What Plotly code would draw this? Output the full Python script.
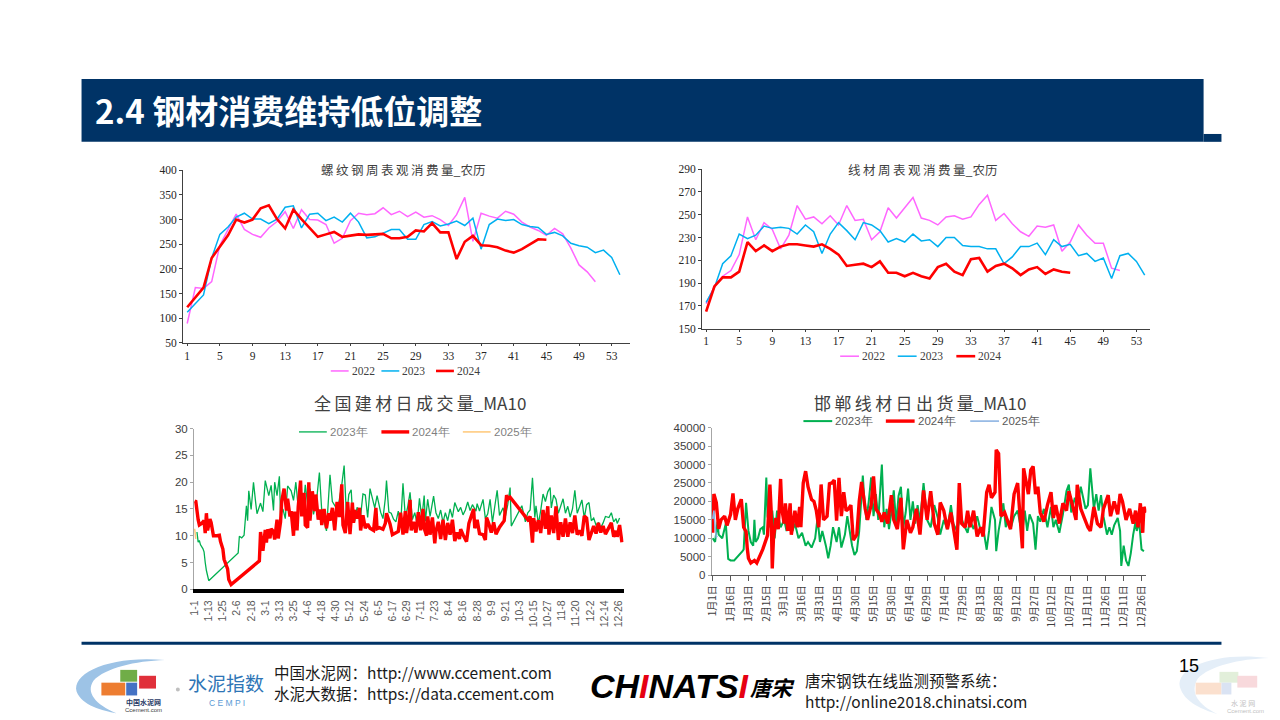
import re
import pandas as pd
import plotly.graph_objects as go

W, H = 1280, 720

# ---------------- top left: 螺纹钢周表观消费量_农历 (lunar week) ----------------
rebar_2022 = [89, 162, 160, 174, 248, 278, 311, 280, 270, 264, 283, 296, 316, 282, 320, 300, 299,
              290, 252, 262, 298, 313, 310, 312, 324, 310, 317, 306, 315, 305, 308, 300, 288, 310,
              345, 256, 313, 307, 303, 317, 311, 295, 285, 278, 268, 282, 271, 242, 208, 194, 174]
rebar_2023 = [112, 129, 147, 222, 270, 285, 305, 313, 301, 301, 292, 301, 325, 328, 283, 311, 313,
              298, 305, 295, 313, 295, 263, 265, 272, 280, 280, 260, 260, 290, 296, 287, 291, 297,
              288, 303, 240, 290, 301, 298, 300, 290, 286, 284, 270, 274, 267, 252, 247, 244, 233,
              238, 223, 188]
rebar_2024 = [122, 141, 162, 222, 245, 268, 300, 294, 300, 323, 329, 301, 282, 320, 301, 283, 265,
              270, 275, 265, 268, 270, 269, 270, 271, 262, 262, 265, 278, 276, 293, 274, 274, 220,
              255, 267, 248, 247, 244, 237, 233, 240, 250, 260, 259]

# ---------------- top right: 线材周表观消费量_农历 ----------------
wire_2022 = [172, 187, 196, 201, 215, 248, 228, 243, 237, 220, 232, 258, 246, 248, 242, 249, 241,
             258, 245, 246, 228, 235, 256, 247, 256, 265, 247, 245, 241, 248, 249, 246, 248, 259,
             267, 245, 251, 242, 235, 231, 240, 239, 241, 218, 226, 241, 232, 225, 225, 203, 201]
wire_2023 = [173, 186, 207, 214, 233, 229, 232, 240, 238, 239, 238, 233, 241, 235, 216, 233, 243,
             236, 228, 243, 241, 236, 226, 229, 226, 233, 227, 228, 222, 230, 230, 223, 222, 222,
             220, 220, 207, 213, 222, 222, 225, 215, 228, 222, 224, 214, 216, 209, 212, 194, 214,
             216, 209, 197]
wire_2024 = [165, 187, 195, 195, 200, 226, 218, 223, 218, 222, 224, 224, 223, 222, 224, 220, 215,
             205, 206, 207, 204, 209, 199, 199, 196, 199, 196, 194, 204, 207, 200, 197, 211, 212,
             200, 205, 207, 203, 197, 202, 204, 198, 202, 200, 199]

week_ticks = [1, 5, 9, 13, 17, 21, 25, 29, 33, 37, 41, 45, 49, 53]

# ---------------- bottom left: 全国建材日成交量_MA10 (day of year) ----------------
bl_day_2023 = [2, 3, 4, 5, 7, 8, 9, 10, 12, 37, 38, 40, 42, 44, 45, 46, 48, 50, 52, 53, 56, 58, 60,
               61, 63, 65, 67, 68, 70, 72, 73, 75, 77, 79, 82, 84, 86, 88, 90, 92, 94, 96, 98, 101,
               104, 106, 108, 110, 112, 115, 117, 120, 122, 125, 127, 129, 131, 133, 134, 136, 138,
               141, 143, 145, 147, 149, 151, 153, 155, 158, 160, 162, 163, 165, 167, 169, 171, 173,
               175, 177, 179, 181, 183, 185, 187, 189, 191, 193, 195, 196, 198, 200, 203, 205, 207,
               209, 211, 213, 215, 217, 219, 221, 224, 226, 228, 230, 232, 234, 236, 239, 240, 242,
               245, 247, 249, 251, 253, 255, 257, 259, 262, 264, 266, 268, 269, 278, 281, 283, 285,
               287, 289, 290, 292, 294, 296, 298, 300, 302, 303, 305, 307, 309, 311, 313, 315, 317,
               319, 321, 323, 325, 327, 329, 331, 333, 335, 337, 339, 341, 343, 345, 347, 349, 352,
               354, 356, 358, 359, 361]
bl_val_2023 = [10.7, 8.8, 9.1, 8.3, 7.6, 7.0, 5.0, 3.5, 1.6, 6.8, 9.9, 9.6, 10.1, 15.6, 12.8, 18.4,
               14.9, 20.0, 15.9, 14.1, 16.1, 14.5, 20.3, 19.3, 17.5, 19.4, 14.7, 20.0, 17.5, 21.1,
               13.8, 15.0, 13.2, 19.3, 18.4, 16.6, 20.0, 15.2, 18.6, 14.2, 19.5, 16.0, 18.8, 14.0,
               17.5, 21.8, 14.6, 12.6, 10.9, 21.4, 16.4, 15.3, 15.5, 19.5, 23.1, 13.5, 17.7, 18.6,
               14.6, 12.7, 15.3, 13.7, 17.8, 17.6, 13.4, 18.8, 17.2, 15.2, 17.5, 14.4, 13.2, 17.0,
               20.3, 14.4, 14.2, 13.1, 12.6, 14.6, 12.0, 19.8, 13.4, 15.4, 18.1, 13.0, 14.3, 12.2,
               17.0, 13.2, 17.5, 12.7, 16.8, 13.6, 17.4, 14.3, 13.2, 14.8, 12.5, 14.3, 12.8, 15.0,
               13.4, 16.2, 14.5, 15.3, 13.9, 14.8, 16.3, 14.7, 15.8, 14.6, 16.0, 14.6, 16.8, 13.2,
               14.1, 16.8, 12.5, 15.5, 18.5, 13.8, 15.2, 13.6, 15.8, 19.0, 11.8, 15.6, 12.6, 14.3,
               14.8, 20.8, 13.4, 15.6, 12.2, 14.7, 17.8, 16.4, 18.2, 19.0, 15.2, 17.6, 16.8, 14.2,
               15.7, 16.9, 14.2, 15.5, 13.5, 15.0, 18.5, 14.2, 15.4, 16.7, 13.3, 15.8, 16.2, 12.8,
               13.3, 12.0, 12.4, 11.5, 12.4, 13.6, 13.4, 14.3, 12.6, 13.2, 12.3, 13.3]

bl_day_2024 = [0, 1, 3, 4, 6, 8, 9, 10, 11, 13, 14, 16, 19, 21, 22, 24, 25, 28, 29, 31, 55, 56, 58,
               59, 60, 61, 62, 64, 65, 67, 68, 70, 71, 73, 74, 76, 78, 79, 81, 82, 84, 85, 87, 88,
               90, 91, 93, 94, 96, 97, 98, 100, 102, 103, 105, 107, 108, 110, 112, 114, 115, 117,
               119, 121, 123, 125, 126, 128, 130, 132, 134, 135, 136, 138, 140, 141, 143, 145, 147,
               149, 152, 154, 155, 157, 160, 162, 163, 164, 166, 168, 170, 173, 175, 177, 179, 180,
               182, 183, 184, 186, 188, 190, 192, 194, 195, 197, 198, 200, 202, 204, 205, 207, 209,
               211, 213, 215, 217, 219, 221, 223, 225, 226, 228, 231, 233, 235, 237, 238, 240, 242,
               245, 247, 248, 250, 252, 254, 256, 259, 261, 263, 265, 266, 268, 283, 285, 287, 288,
               290, 292, 294, 296, 298, 300, 301, 303, 305, 307, 309, 311, 313, 315, 317, 319, 321,
               323, 325, 327, 329, 331, 333, 335, 337, 339, 341, 343, 345, 347, 349, 352, 354, 356,
               358, 359, 361, 363]
bl_val_2024 = [16.5, 16.4, 13.0, 12.0, 12.3, 12.8, 10.5, 14.2, 11.0, 13.1, 12.5, 10.0, 10.0, 10.1,
               8.9, 7.5, 5.6, 3.8, 1.8, 0.9, 5.3, 10.7, 7.2, 9.5, 11.1, 8.7, 11.2, 9.5, 11.3, 10.8,
               9.3, 13.0, 9.5, 12.6, 16.5, 18.8, 14.7, 16.9, 13.6, 14.6, 10.0, 14.5, 11.0, 15.4,
               20.3, 13.6, 18.0, 12.0, 11.5, 20.0, 12.8, 18.3, 14.6, 17.7, 13.0, 14.9, 12.0, 15.0,
               11.4, 14.2, 12.8, 15.2, 11.0, 16.3, 13.5, 19.6, 12.0, 10.5, 16.3, 10.3, 16.2, 12.4,
               14.8, 13.2, 15.2, 11.0, 13.8, 11.4, 12.2, 11.4, 11.0, 15.2, 11.3, 11.5, 11.2, 12.3,
               14.2, 13.5, 12.2, 10.2, 10.4, 10.8, 14.3, 10.2, 14.6, 10.5, 13.4, 16.7, 11.0, 12.6,
               10.6, 14.4, 11.0, 15.0, 11.4, 10.0, 13.6, 10.2, 13.4, 8.6, 10.8, 12.6, 9.4, 13.0,
               9.2, 12.4, 10.2, 13.0, 9.0, 10.6, 9.4, 11.2, 10.2, 8.9, 12.3, 13.8, 15.0, 11.4, 13.0,
               10.4, 10.2, 9.2, 13.4, 12.2, 10.6, 12.5, 10.3, 11.6, 12.1, 12.8, 17.6, 16.8, 17.2,
               13.0, 13.6, 8.7, 13.3, 10.8, 12.9, 10.5, 14.8, 11.3, 15.5, 10.2, 13.8, 10.5, 15.5,
               9.2, 12.5, 9.8, 13.2, 9.8, 12.5, 10.5, 13.8, 10.2, 11.0, 10.0, 13.7, 13.3, 9.2, 10.6,
               11.8, 10.4, 12.4, 10.6, 11.8, 10.3, 11.7, 12.4, 9.8, 10.9, 9.8, 12.0, 8.8]

bl_day_2025 = [0, 1]
bl_val_2025 = [11.3, 9.4]

bl_ticks = ["1-1", "1-13", "1-25", "2-6", "2-18", "3-1", "3-13", "3-25", "4-6", "4-18", "4-30",
            "5-12", "5-24", "6-5", "6-17", "6-29", "7-11", "7-23", "8-4", "8-16", "8-28", "9-9",
            "9-21", "10-3", "10-15", "10-27", "11-8", "11-20", "12-2", "12-14", "12-26"]

# ---------------- bottom right: 邯郸线材日出货量_MA10 ----------------
br_day_2023 = [0, 2, 4, 5, 8, 11, 13, 15, 18, 21, 25, 26, 28, 30, 32, 34, 35, 36, 38, 40, 42, 43,
               45, 46, 48, 50, 52, 54, 55, 57, 60, 62, 64, 67, 69, 72, 75, 78, 80, 83, 86, 88, 90,
               92, 95, 97, 99, 101, 104, 106, 108, 111, 113, 115, 117, 119, 121, 123, 126, 127, 129,
               131, 133, 135, 137, 139, 142, 144, 146, 148, 150, 152, 154, 156, 158, 160, 162, 164,
               166, 168, 170, 172, 174, 177, 180, 183, 186, 189, 191, 194, 197, 200, 202, 205, 208,
               211, 214, 216, 219, 222, 225, 227, 230, 232, 234, 237, 238, 240, 242, 244, 246, 248,
               250, 253, 256, 258, 260, 262, 264, 266, 269, 271, 273, 275, 278, 281, 284, 286, 288,
               291, 294, 297, 299, 301, 304, 306, 309, 311, 313, 315, 317, 320, 322, 324, 326, 328,
               331, 333, 335, 337, 340, 342, 343, 345, 347, 349, 351, 353, 355, 356, 358, 360, 362]
br_val_2023 = [10000, 9000, 14500, 11000, 10000, 14000, 4400, 4000, 4000, 5000, 6500, 7000, 19600,
               12000, 9000, 8000, 15000, 9000, 10000, 12500, 13000, 11000, 26500, 16000, 13000,
               17500, 10000, 17500, 16000, 13000, 15000, 12000, 14500, 12000, 14000, 10000, 11500,
               8000, 9000, 7500, 10000, 15500, 9000, 12000, 8000, 4600, 8000, 13000, 9000, 13000,
               7500, 11000, 16000, 12000, 8000, 5500, 6500, 12000, 27000, 22000, 15000, 20000,
               26500, 16000, 22000, 15000, 30000, 13000, 18000, 12500, 17000, 23000, 14000, 21500,
               24000, 13000, 17000, 23500, 15000, 20000, 14000, 19000, 14500, 25000, 15000, 13000,
               19000, 15500, 11000, 15000, 12500, 19000, 14000, 12000, 16000, 13500, 11500, 15000,
               12500, 16000, 12000, 13000, 6900, 12000, 18500, 15000, 6500, 12000, 16000, 19500,
               13000, 15000, 12500, 16000, 17500, 14000, 12000, 17500, 12000, 16500, 14000, 6900,
               16000, 14500, 18000, 13000, 18500, 13000, 15000, 11500, 16500, 22800, 24600, 17000,
               21000, 18500, 24000, 21000, 18000, 19000, 29000, 18000, 22000, 17500, 21700, 16000,
               11000, 13000, 11000, 13500, 15500, 12000, 2500, 8000, 4000, 2500, 6000, 11000, 14500,
               12000, 14500, 7000, 6500]

br_day_2024 = [0, 1, 3, 5, 7, 10, 12, 15, 17, 19, 21, 24, 26, 28, 29, 30, 32, 35, 37, 42, 46, 47,
               48, 49, 50, 51, 53, 55, 57, 58, 60, 61, 63, 65, 66, 69, 71, 73, 74, 76, 78, 80, 83,
               85, 87, 89, 91, 93, 96, 98, 100, 102, 104, 106, 108, 110, 112, 114, 116, 118, 121,
               123, 125, 128, 130, 133, 135, 137, 140, 142, 144, 147, 150, 152, 155, 158, 160, 163,
               166, 168, 171, 174, 177, 180, 183, 186, 189, 191, 194, 197, 200, 202, 205, 207, 209,
               212, 214, 216, 219, 222, 225, 227, 230, 232, 234, 237, 238, 240, 242, 245, 248, 250,
               253, 256, 258, 260, 261, 263, 265, 267, 269, 271, 273, 275, 278, 281, 284, 286, 288,
               291, 294, 297, 299, 302, 305, 306, 309, 312, 315, 317, 320, 323, 326, 328, 332, 334,
               337, 340, 342, 344, 347, 350, 353, 355, 357, 359, 361, 362, 364]
br_val_2024 = [11500, 22000, 19700, 12600, 15000, 16000, 13500, 16500, 22200, 15000, 18000, 20600,
               13000, 11800, 7300, 4600, 3300, 4000, 3300, 7000, 10800, 19500, 24600, 18000, 1800,
               10000, 15500, 12500, 26100, 18000, 14000, 19500, 12000, 19500, 11000, 17500, 13000,
               18500, 13000, 25000, 28200, 24000, 20500, 20000, 17500, 13000, 24600, 15000, 16000,
               24800, 25000, 25800, 14800, 26400, 16000, 22500, 17500, 18000, 19000, 9500, 11000,
               20000, 25300, 18000, 15000, 19000, 26800, 18000, 16500, 14500, 17000, 14000, 21700,
               15000, 12500, 21000, 7000, 15000, 11500, 13000, 18000, 11000, 23000, 15000, 22800,
               14000, 11000, 19700, 17500, 12500, 17000, 13000, 6900, 25000, 14000, 13000, 17500,
               13000, 17500, 10500, 13000, 10500, 22500, 24500, 21000, 22500, 34000, 33000, 16000,
               17000, 14500, 12500, 22000, 25000, 16000, 7300, 29000, 25000, 22000, 28500, 29500,
               22000, 24000, 17000, 14500, 19000, 22500, 15500, 19000, 14000, 19500, 17500, 22800,
               19000, 15000, 24500, 18000, 15500, 13000, 12000, 18500, 14000, 13000, 18000, 21700,
               16000, 20000, 16500, 22000, 20000, 15000, 18000, 14000, 17500, 13000, 19500, 11500,
               18500, 17000]

br_day_2025 = [0, 1, 2, 3, 4]
br_val_2025 = [15300, 17500, 13000, 10400, 10600]

br_ticks = ["1月1日", "1月16日", "1月31日", "2月15日", "3月1日", "3月16日", "3月31日", "4月15日",
            "4月30日", "5月15日", "5月30日", "6月14日", "6月29日", "7月14日", "7月29日", "8月13日",
            "8月28日", "9月12日", "9月27日", "10月12日", "10月27日", "11月11日", "11月26日",
            "12月11日", "12月26日"]

C_PINK, C_BLUE, C_RED = "#FF66FF", "#00B0F0", "#FF0000"
C_GREEN = "#00B050"
NAVY = "#003366"
CJK = "Noto Sans CJK SC"
SERIF = "Liberation Serif"
SANS = "Liberation Sans"

base = pd.Timestamp("2024-01-01")


def to_date(days):
    return base + pd.to_timedelta(days, unit="D")


def px(x):
    return x / W


def py(y):
    return 1 - y / H


def spaced(s):
    return "\u2009".join(s)


fig = go.Figure()

# top charts (x = week number)
for vals, col, wd, ax in [(rebar_2022, C_PINK, 1.5, ""), (rebar_2023, C_BLUE, 1.5, ""),
                          (rebar_2024, C_RED, 2.6, ""), (wire_2022, C_PINK, 1.5, "2"),
                          (wire_2023, C_BLUE, 1.5, "2"), (wire_2024, C_RED, 2.6, "2")]:
    fig.add_trace(go.Scatter(x=list(range(1, len(vals) + 1)), y=vals, mode="lines",
                             line=dict(color=col, width=wd), xaxis="x" + ax, yaxis="y" + ax,
                             showlegend=False))

# bottom left
fig.add_trace(go.Scatter(x=to_date(bl_day_2023), y=bl_val_2023, mode="lines", name="2023年",
                         line=dict(color=C_GREEN, width=1.3), xaxis="x3", yaxis="y3"))
fig.add_trace(go.Scatter(x=to_date(bl_day_2024), y=bl_val_2024, mode="lines", name="2024年",
                         line=dict(color=C_RED, width=3.4), xaxis="x3", yaxis="y3"))
fig.add_trace(go.Scatter(x=to_date(bl_day_2025), y=bl_val_2025, mode="lines", name="2025年",
                         line=dict(color="#FFC878", width=1.5), xaxis="x3", yaxis="y3"))

# bottom right
fig.add_trace(go.Scatter(x=to_date(br_day_2023), y=br_val_2023, mode="lines", name="2023年",
                         line=dict(color=C_GREEN, width=2.0), xaxis="x4", yaxis="y4"))
fig.add_trace(go.Scatter(x=to_date(br_day_2024), y=br_val_2024, mode="lines", name="2024年",
                         line=dict(color=C_RED, width=3.4), xaxis="x4", yaxis="y4"))
fig.add_trace(go.Scatter(x=to_date(br_day_2025), y=br_val_2025, mode="lines", name="2025年",
                         line=dict(color="#8DB4E2", width=1.6), xaxis="x4", yaxis="y4"))

bl_tickvals = [pd.to_datetime("2024-" + t, format="%Y-%m-%d") for t in bl_ticks]
br_tickvals = [pd.Timestamp(2024, int(m), int(d))
               for m, d in (re.match(r"(\d+)月(\d+)日", t).groups() for t in br_ticks)]

top_tick = dict(family=SERIF, size=11.5, color="#262626")
bot_tick = dict(family=SANS, size=11.5, color="#404040")
common = dict(showgrid=False, zeroline=False, showline=True, ticks="outside")

fig.update_layout(
    width=W, height=H, margin=dict(l=0, r=0, t=0, b=0),
    paper_bgcolor="white", plot_bgcolor="rgba(0,0,0,0)", showlegend=False,
    xaxis=dict(domain=[px(168.3), px(618)], range=[0.5, 55.2], tickvals=week_ticks,
               linecolor="#404040", ticklen=2, tickcolor="#404040", tickfont=top_tick,
               anchor="y", **common),
    yaxis=dict(domain=[py(334.3), py(159)], range=[50, 400], dtick=50, linecolor="#404040",
               ticklen=3, tickcolor="#404040", tickfont=top_tick, anchor="x", **common),
    xaxis2=dict(domain=[px(691), px(1141.7)], range=[0.52, 54.6], tickvals=week_ticks,
                linecolor="#404040", ticklen=2, tickcolor="#404040", tickfont=top_tick,
                anchor="y2", **common),
    yaxis2=dict(domain=[py(320), py(157.7)], range=[150, 290], dtick=20, tick0=150,
                linecolor="#404040", ticklen=3, tickcolor="#404040", tickfont=top_tick,
                anchor="x2", **common),
    xaxis3=dict(domain=[px(179.3), px(612)], type="date",
                range=[base - pd.Timedelta(hours=12), base + pd.Timedelta(days=364.5)],
                tickvals=bl_tickvals, ticktext=bl_ticks, tickangle=-90, linecolor="black",
                linewidth=4, ticklen=3, tickcolor="rgba(0,0,0,0)",
                tickfont=dict(family=SANS, size=10.5, color="#595959"), anchor="y3", **common),
    yaxis3=dict(domain=[py(585), py(421.7)], range=[0, 30], dtick=5, linecolor="#A6A6A6",
                ticklen=3, tickcolor="#A6A6A6", tickfont=bot_tick, anchor="x3", **common),
    xaxis4=dict(domain=[px(700.7), px(1138.3)], type="date",
                range=[base - pd.Timedelta(hours=19), base + pd.Timedelta(days=364)],
                tickvals=br_tickvals, ticktext=br_ticks, tickangle=-90, linecolor="#595959",
                ticklen=5, tickcolor="#595959",
                tickfont=dict(family=CJK, size=10, color="#404040"), anchor="y4", **common),
    yaxis4=dict(domain=[py(570.7), py(420.7)], range=[0, 40000], dtick=5000, tickformat="d",
                linecolor="#A6A6A6", ticklen=3, tickcolor="#A6A6A6", tickfont=bot_tick,
                anchor="x4", **common),
)

shapes = []
ann = []


def text(x, y, s, size, color="#000000", family=CJK, xanchor="center", yanchor="middle"):
    ann.append(dict(x=px(x), y=py(y), xref="paper", yref="paper", text=s, showarrow=False,
                    xanchor=xanchor, yanchor=yanchor,
                    font=dict(family=family, size=size, color=color)))


def rect(x0, y0, x1, y1, color):
    shapes.append(dict(type="rect", xref="paper", yref="paper", x0=px(x0), x1=px(x1),
                       y0=py(y1), y1=py(y0), fillcolor=color, line=dict(width=0), layer="above"))


def hline(x0, x1, y, color, width):
    shapes.append(dict(type="line", xref="paper", yref="paper", x0=px(x0), x1=px(x1),
                       y0=py(y), y1=py(y), line=dict(color=color, width=width)))


def crescent(p0, c1, c2, c3, c4, c5, color):
    # p0 start, then two cubic segments: outer (c1..c3) and inner back to p0 (c4, c5)
    pts = lambda q: f"{px(q[0]):.5f},{py(q[1]):.5f}"
    d = (f"M {pts(p0)} C {pts(c1[0])} {pts(c1[1])} {pts(c1[2])} "
         f"C {pts(c2[0])} {pts(c2[1])} {pts(c2[2])} "
         f"C {pts(c3[0])} {pts(c3[1])} {pts(c3[2])} "
         f"C {pts(c4[0])} {pts(c4[1])} {pts(p0)} Z")
    shapes.append(dict(type="path", xref="paper", yref="paper", path=d, fillcolor=color,
                       line=dict(width=0), layer="below"))


# header band
rect(66, 66, 1196, 130, NAVY)
rect(1196, 122, 1214, 130, NAVY)
text(78, 98, "<b>2.4 钢材消费维持低位调整</b>", 33, "white", xanchor="left")

# chart titles
text(390, 158, spaced("螺纹钢周表观消费量") + "_农历", 12.5, "#404040")
text(913, 158, spaced("线材周表观消费量") + "_农历", 12.5, "#404040")
text(407, 395, spaced("全国建材日成交量") + "_MA10", 17, "#404040")
text(910, 395, spaced("邯郸线材日出货量") + "_MA10", 17, "#404040")

# top legends
for x0, col, wd, lab in [(317, C_PINK, 1.5, "2022"), (368, C_BLUE, 1.5, "2023"), (423, C_RED, 2.6, "2024")]:
    hline(x0, x0 + 18, 363, col, wd)
    text(x0 + 19, 363, lab, 11.5, "#404040", SERIF, xanchor="left")
for x0, col, wd, lab in [(830, C_PINK, 1.5, "2022"), (888, C_BLUE, 1.5, "2023"), (947, C_RED, 2.6, "2024")]:
    hline(x0, x0 + 19, 348, col, wd)
    text(x0 + 20, 348, lab, 11.5, "#404040", SERIF, xanchor="left")

# bottom legends
for x0, col, wd, lab in [(285, C_GREEN, 1.3, "2023年"), (368, C_RED, 3.4, "2024年"), (450, "#FFC878", 1.5, "2025年")]:
    hline(x0, x0 + 28, 425, col, wd)
    text(x0 + 29, 425, lab, 11.5, "#7F7F7F", SANS, xanchor="left")
for x0, col, wd, lab in [(793, C_GREEN, 2.0, "2023年"), (876, C_RED, 3.4, "2024年"), (961, "#8DB4E2", 1.6, "2025年")]:
    hline(x0, x0 + 29, 414, col, wd)
    text(x0 + 30, 414, lab, 11.5, "#595959", SANS, xanchor="left")

# footer
hline(66, 1214, 640, NAVY, 3)
text(258, 669, "中国水泥网：http://www.ccement.com", 15.5, "#1A1A1A", xanchor="left")
text(258, 691, "水泥大数据：https://data.ccement.com", 15.5, "#1A1A1A", xanchor="left")
text(793, 677, "唐宋钢铁在线监测预警系统：", 15.5, "#1A1A1A", xanchor="left")
text(793, 699, "http://online2018.chinatsi.com", 15.5, "#1A1A1A", xanchor="left")
text(1181, 663, "15", 18, "#000000", SANS)
text(576, 683, "<b><i>CH<span style='color:#E60012'>I</span>NATS<span style='color:#E60012'>I</span></i></b>",
     34, "#000000", SANS, xanchor="left")
text(762, 684, "<b><i>唐宋</i></b>", 21, "#000000")

# ccement logo (left)
crescent((150, 657), [(95, 652), (56, 670), (61, 689)], [(66, 703), (88, 709), (101, 711)],
         [(80, 702), (70, 690), (78, 678)], [(90, 665), (120, 658)], None, "#9DC3E6")
rect(86, 680, 110, 693, "#ED7D31")
rect(105, 667, 122, 679, "#70AD47")
rect(111, 680, 122, 693, "#4472C4")
rect(124, 673, 141, 686, "#E0303A")
text(128, 700, "<b>中国水泥网</b>", 7, "#1F3864")
text(128, 708, "Ccement.com", 6, "#404040", SANS)
shapes.append(dict(type="circle", xref="paper", yref="paper", x0=px(161), x1=px(165),
                   y0=py(689), y1=py(685), fillcolor="#BFBFBF", line=dict(width=0)))
text(211, 680, "水泥指数", 19, "#2E75B6")
text(212, 701, "C E M P I", 8.5, "#5B9BD5", SANS)

# faded logo (right)
crescent((1262, 655), [(1210, 648), (1168, 664), (1172, 684)], [(1176, 700), (1196, 708), (1210, 712)],
         [(1190, 702), (1182, 690), (1190, 676)], [(1202, 663), (1232, 656)], None, "#E4EEF8")
rect(1188, 680, 1214, 692, "#FBE0CE")
rect(1212, 669, 1231, 680, "#E2EFDA")
rect(1214, 680, 1224, 692, "#DAE3F3")
rect(1230, 673, 1250, 685, "#F8D9DC")
text(1236, 701, "水 泥 网", 7, "#BFBFBF")
text(1238, 709, "Ccement.com", 6, "#BFBFBF", SANS)

fig.update_layout(shapes=shapes, annotations=ann)
fig.write_html("out.html")
